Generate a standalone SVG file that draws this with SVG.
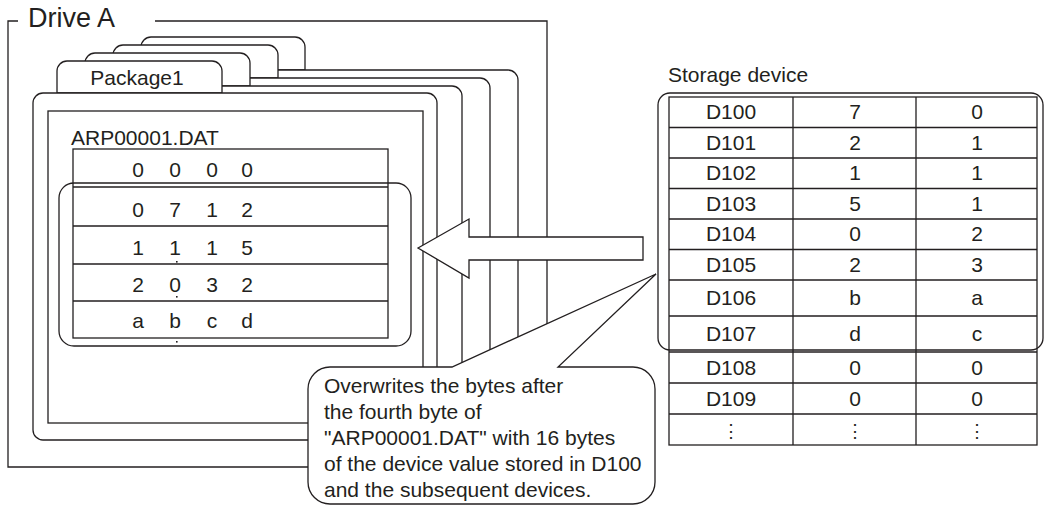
<svg xmlns="http://www.w3.org/2000/svg" width="1044" height="507" viewBox="0 0 1044 507">
<style>
  .ln{fill:none;stroke:#231f20;stroke-width:1.3}
  .wf{fill:#fff;stroke:#231f20;stroke-width:1.3}
  text{font-family:"Liberation Sans",Arial,sans-serif;fill:#231f20}
  .t20{font-size:21px}
  .c{text-anchor:middle}
  .dot{fill:#231f20}
</style>
<rect width="1044" height="507" fill="#fff"/>
<g id="driveA">
  <path class="ln" d="M18,21 H8 V467 H547 V21 H155"/>
  <text x="28" y="27" style="font-size:27px">Drive A</text>
</g>
<g id="folder4">
  <path class="wf" d="M141,70 V47 A10,10 0 0 1 151,37 H295 A10,10 0 0 1 305,47 V70 Z"/>
  <rect class="wf" x="117" y="70" width="401" height="347" rx="10"/>
</g>
<g id="folder3">
  <path class="wf" d="M113,78 V55 A10,10 0 0 1 123,45 H268 A10,10 0 0 1 278,55 V78 Z"/>
  <rect class="wf" x="89" y="78" width="401" height="352" rx="10"/>
</g>
<g id="folder2">
  <path class="wf" d="M85,86 V63 A10,10 0 0 1 95,53 H240 A10,10 0 0 1 250,63 V86 Z"/>
  <rect class="wf" x="61" y="86" width="401" height="347" rx="10"/>
</g>
<g id="package1">
  <path class="wf" d="M57,93 V71 A10,10 0 0 1 67,61 H212 A10,10 0 0 1 222,71 V93 Z"/>
  <text class="t20 c" x="137" y="85">Package1</text>
  <rect class="wf" x="33" y="93" width="404" height="347" rx="10"/>
  <rect class="ln" x="48" y="111" width="375" height="312"/>
</g>
<g id="arpfile">
  <text class="t20" x="71" y="145">ARP00001.DAT</text>
  <rect class="ln" x="73" y="149" width="315" height="189"/>
  <path class="ln" d="M73,187 H388 M73,226 H388 M73,264 H388 M73,301 H388"/>
  <g class="t20 c">
    <text x="138" y="177">0</text><text x="175" y="177">0</text><text x="212" y="177">0</text><text x="247" y="177">0</text>
    <text x="138" y="217">0</text><text x="175" y="217">7</text><text x="212" y="217">1</text><text x="247" y="217">2</text>
    <text x="138" y="255">1</text><text x="175" y="255">1</text><text x="212" y="255">1</text><text x="247" y="255">5</text>
    <text x="138" y="292">2</text><text x="175" y="292">0</text><text x="212" y="292">3</text><text x="247" y="292">2</text>
    <text x="138" y="328">a</text><text x="175" y="328">b</text><text x="212" y="328">c</text><text x="247" y="328">d</text>
  </g>
  <rect class="dot" x="176" y="261" width="1.6" height="1.6"/>
  <rect class="dot" x="176" y="296" width="1.6" height="1.6"/>
  <rect class="dot" x="176" y="341" width="1.6" height="1.6"/>
  <rect class="ln" x="59" y="183" width="352" height="163" rx="15"/>
</g>
<g id="connectors">
  <path class="wf" d="M418,248 L469,219 V237 H643 V260 H469 V278 Z"/>
</g>
<g id="callout">
  <path class="wf" d="M330,367 H452 L656,274 L558,367 H633 A22,22 0 0 1 655,389 V482 A22,22 0 0 1 633,504 H330 A22,22 0 0 1 308,482 V389 A22,22 0 0 1 330,367 Z"/>
  <g style="font-size:21px">
    <text x="324" y="393">Overwrites the bytes after</text>
    <text x="324" y="419">the fourth byte of</text>
    <text x="324" y="445">"ARP00001.DAT" with 16 bytes</text>
    <text x="324" y="471">of the device value stored in D100</text>
    <text x="324" y="497">and the subsequent devices.</text>
  </g>
</g>
<g id="storage">
  <text class="t20" x="668" y="82">Storage device</text>
  <rect class="ln" x="669" y="97" width="368" height="348"/>
  <path class="ln" d="M793,97 V445 M916,97 V445 M669,127.5 H1037 M669,158 H1037 M669,188.5 H1037 M669,219 H1037 M669,249.5 H1037 M669,280 H1037 M669,316 H1037 M669,352 H1037 M669,383 H1037 M669,414 H1037"/>
  <g class="t20 c">
    <text x="731" y="119">D100</text><text x="855" y="119">7</text><text x="977" y="119">0</text>
    <text x="731" y="150">D101</text><text x="855" y="150">2</text><text x="977" y="150">1</text>
    <text x="731" y="180">D102</text><text x="855" y="180">1</text><text x="977" y="180">1</text>
    <text x="731" y="211">D103</text><text x="855" y="211">5</text><text x="977" y="211">1</text>
    <text x="731" y="241">D104</text><text x="855" y="241">0</text><text x="977" y="241">2</text>
    <text x="731" y="272">D105</text><text x="855" y="272">2</text><text x="977" y="272">3</text>
    <text x="731" y="305">D106</text><text x="855" y="305">b</text><text x="977" y="305">a</text>
    <text x="731" y="341">D107</text><text x="855" y="341">d</text><text x="977" y="341">c</text>
    <text x="731" y="375">D108</text><text x="855" y="375">0</text><text x="977" y="375">0</text>
    <text x="731" y="406">D109</text><text x="855" y="406">0</text><text x="977" y="406">0</text>
  </g>
  <g class="c" style="font-family:'DejaVu Sans',sans-serif;font-size:18px">
    <text x="731" y="437">⋮</text><text x="855" y="437">⋮</text><text x="977" y="437">⋮</text>
  </g>
  <rect class="ln" x="658" y="93" width="385" height="257" rx="12"/>
</g>
</svg>
